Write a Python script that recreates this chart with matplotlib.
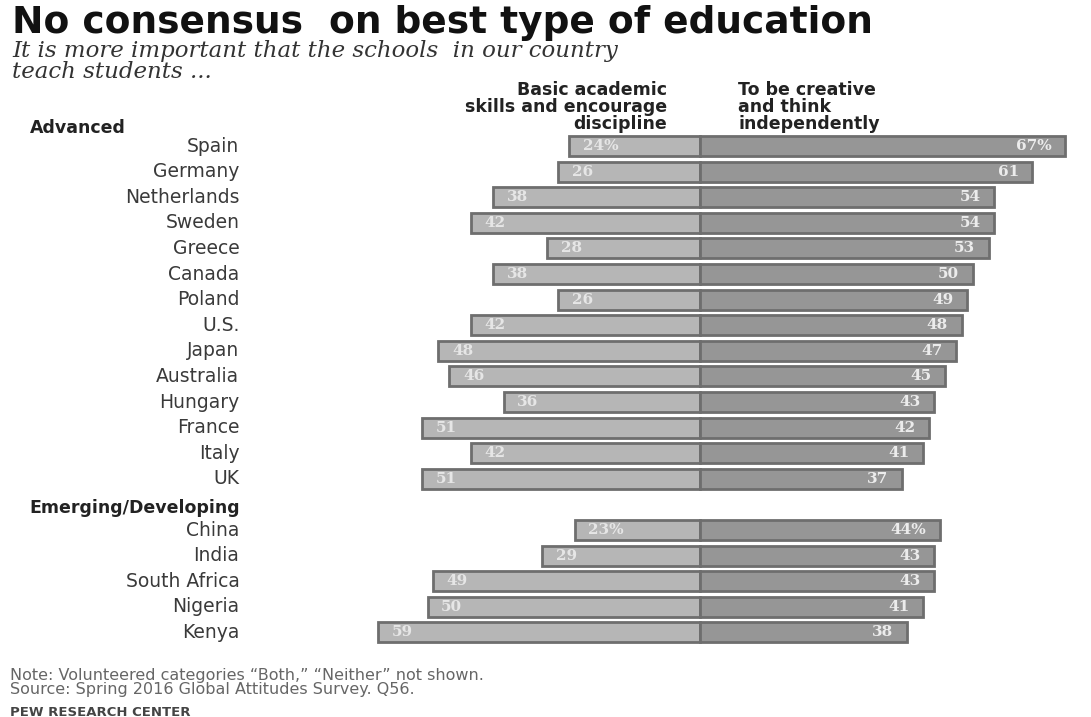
import matplotlib.pyplot as plt
import numpy as np

# Data
advanced = ["Spain", "Germany", "Netherlands", "Sweden", "Greece", "Canada", "Poland",
            "U.S.", "Japan", "Australia", "Hungary", "France", "Italy", "UK"]
adv_basic = [24, 26, 38, 42, 28, 38, 26, 42, 48, 46, 36, 51, 42, 51]
adv_creative = [67, 61, 54, 54, 53, 50, 49, 48, 47, 45, 43, 42, 41, 37]

emerging = ["China", "India", "South Africa", "Nigeria", "Kenya"]
emg_basic = [23, 29, 49, 50, 59]
emg_creative = [44, 43, 43, 41, 38]

W, H = 1091, 717
fig = plt.figure(figsize=(W / 100, H / 100), dpi=100)
ax = fig.add_axes([0, 0, 1, 1])

# x in percentage points, centre of diverging bars at pixel 700, 5.45 px per point
px_per_pt = 5.45
x_center = 700
ax.set_xlim(-x_center / px_per_pt, (W - x_center) / px_per_pt)
# y in rows, first row at pixel 146, 25.6 px per row
row0, row_h = 146, 25.6
ax.set_ylim((H - row0) / row_h, -row0 / row_h)
ax.axis("off")

adv_rows = np.arange(len(advanced))
emg_rows = np.arange(len(emerging)) + len(advanced) + 1

names = advanced + emerging
rows = np.concatenate([adv_rows, emg_rows])
basic = adv_basic + emg_basic
creative = adv_creative + emg_creative

left_col = "#b6b6b6"
right_col = "#969696"
edge_col = "#6e6e6e"
bh = 0.78

ax.barh(rows, [-b for b in basic], height=bh, color=left_col, edgecolor=edge_col, linewidth=2)
ax.barh(rows, creative, height=bh, color=right_col, edgecolor=edge_col, linewidth=2)

label_x = -84.5
for i, (name, r, b, c) in enumerate(zip(names, rows, basic, creative)):
    first = i == 0 or i == len(advanced)
    bl = f"{b}%" if first else f"{b}"
    cl = f"{c}%" if first else f"{c}"
    ax.text(-b + 2.5, r, bl, ha="left", va="center", color="#e6e6e6",
            fontsize=11, fontweight="bold", family="DejaVu Serif")
    ax.text(c - 2.5, r, cl, ha="right", va="center", color="#ececec",
            fontsize=11, fontweight="bold", family="DejaVu Serif")
    ax.text(label_x, r, name, ha="right", va="center", color="#3a3a3a", fontsize=13.5)

# Group headers
ax.text(-123, adv_rows[0] - 0.72, "Advanced", ha="left", va="center",
        fontsize=12.5, fontweight="bold", color="#222222")
ax.text(-123, len(advanced) + 0.15, "Emerging/Developing", ha="left", va="center",
        fontsize=12.5, fontweight="bold", color="#222222")

# Column headers
ax.text(-6, adv_rows[0] - 0.5, "Basic academic\nskills and encourage\ndiscipline",
        ha="right", va="bottom", fontsize=12.5, fontweight="bold", color="#222222",
        linespacing=0.95)
ax.text(7, adv_rows[0] - 0.5, "To be creative\nand think\nindependently",
        ha="left", va="bottom", fontsize=12.5, fontweight="bold", color="#222222",
        linespacing=0.95)

# Titles
fig.text(12 / W, 1 - 23 / H, "No consensus  on best type of education",
         ha="left", va="center", fontsize=27, fontweight="bold", color="#111111")
fig.text(12 / W, 1 - 40 / H, "It is more important that the schools  in our country\nteach students ...",
         ha="left", va="top", fontsize=16.5, style="italic", family="DejaVu Serif",
         color="#333333", linespacing=0.95)

# Footer
fig.text(10 / W, 1 - 668 / H,
         "Note: Volunteered categories \u201cBoth,\u201d \u201cNeither\u201d not shown.\n"
         "Source: Spring 2016 Global Attitudes Survey. Q56.",
         ha="left", va="top", fontsize=11.5, color="#666666", linespacing=0.9)
fig.text(10 / W, 1 - 712 / H, "PEW RESEARCH CENTER", ha="left", va="center",
         fontsize=9.5, fontweight="bold", color="#444444")

fig.savefig("out.png", dpi=100)
